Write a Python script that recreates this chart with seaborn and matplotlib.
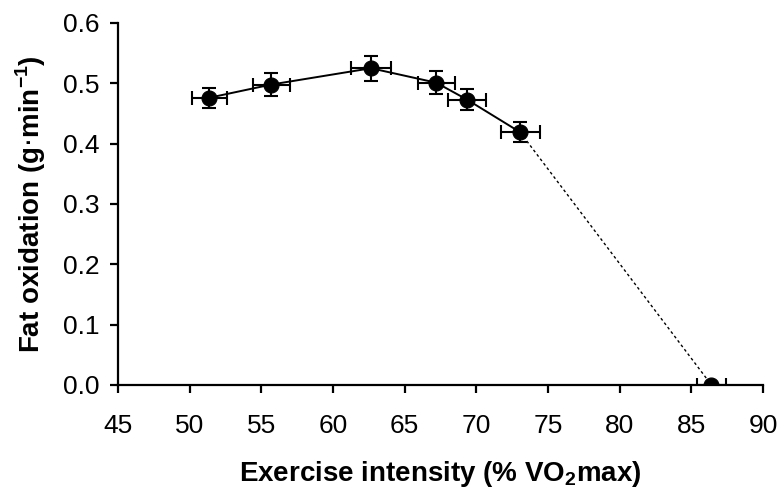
import matplotlib
matplotlib.use("Agg")
import matplotlib.pyplot as plt
import seaborn as sns
import pandas as pd
import numpy as np

intensity = [51.35, 55.7, 62.65, 67.2, 69.35, 73.05, 86.4]
fat_ox = [0.476, 0.498, 0.525, 0.501, 0.473, 0.419, 0.0]
x_err = [1.22, 1.29, 1.4, 1.29, 1.33, 1.36, 1.0]
y_err = [0.017, 0.019, 0.021, 0.019, 0.017, 0.017, 0.0]

sns.set_style("white")
plt.rcParams['font.family'] = ['Liberation Sans', 'DejaVu Sans']

df = pd.DataFrame({"x": intensity, "y": fat_ox})

fig = plt.figure(figsize=(7.8, 4.92), dpi=100)
ax = fig.add_axes([0.1513, 0.2175, 0.827, 0.7358])

sns.lineplot(data=df.iloc[:6], x="x", y="y", color="black", lw=1.4, ax=ax, sort=False)
sns.lineplot(data=df.iloc[5:], x="x", y="y", color="black", lw=1.0, ls=(0, (2, 2)), ax=ax, sort=False)
ax.errorbar(intensity, fat_ox, xerr=x_err, yerr=y_err, fmt="none", ecolor="black",
            elinewidth=1.5, capsize=5, capthick=1.5, zorder=3)
sns.scatterplot(data=df, x="x", y="y", color="black", s=115, edgecolor="black", ax=ax, zorder=4)

ax.set_xlim(45, 90)
ax.set_ylim(0, 0.6)
ax.set_xticks(np.arange(45, 91, 5))
ax.set_yticks(np.arange(0, 0.61, 0.1))
ax.set_yticklabels([f"{v:.1f}" for v in np.arange(0, 0.61, 0.1)])
ax.tick_params(axis="both", direction="out", length=6, width=1.6, labelsize=19,
               colors="black", labelcolor="black", bottom=True, left=True)
ax.tick_params(axis="x", pad=15)
ax.tick_params(axis="y", pad=7)
for s in ["top", "right"]:
    ax.spines[s].set_visible(False)
for s in ["left", "bottom"]:
    ax.spines[s].set_color("black")
    ax.spines[s].set_linewidth(1.6)

ax.set_xlabel("Exercise intensity (% VO$_\\mathregular{2}$max)", fontsize=20,
              fontweight="bold", color="black", labelpad=15)
ax.set_ylabel("Fat oxidation (g$\\cdot$min$^{\\mathregular{-1}}$)", fontsize=20,
              fontweight="bold", color="black", labelpad=11)

fig.savefig("out.png", dpi=100)
